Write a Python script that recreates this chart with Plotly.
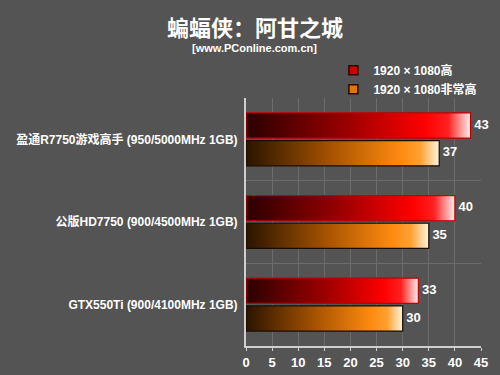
import plotly.graph_objects as go

categories = ["盈通R7750游戏高手 (950/5000MHz 1GB)", "公版HD7750 (900/4500MHz 1GB)", "GTX550Ti (900/4100MHz 1GB)"]
series_names = ["1920 × 1080高", "1920 × 1080非常高"]
high = [43, 40, 33]
very_high = [37, 35, 30]
x_ticks = [0, 5, 10, 15, 20, 25, 30, 35, 40, 45]

FONT = "Liberation Sans, Arial, Noto Sans CJK SC, sans-serif"
BG = "#545454"

red_scale = [[0, "#2a0000"], [0.45, "#9a0000"], [0.8, "#ff0000"], [0.9, "#ff2020"], [1, "#fff0f0"]]
orange_scale = [[0, "#2a1400"], [0.45, "#a85400"], [0.8, "#ff8a10"], [0.9, "#ffa030"], [1, "#fff4e0"]]

specs = [
    (series_names[0], high, red_scale, "#c00000", "#d00000", -0.32, -0.015),
    (series_names[1], very_high, orange_scale, "#1a0d00", "#e07800", 0.015, 0.32),
]

fig = go.Figure()
for name, vals, scale, edge, swatch, o1, o2 in specs:
    # legend swatch (legend only, no data)
    fig.add_trace(go.Scatter(x=[None], y=[None], mode="markers", name=name,
                             marker=dict(symbol="square", size=9, color=swatch,
                                         line=dict(color="#2a0800", width=1.5)),
                             showlegend=True, hoverinfo="skip"))
    for i, v in enumerate(vals):
        fig.add_trace(go.Scatter(
            x=[0, v, v, 0, 0], y=[i + o1, i + o1, i + o2, i + o2, i + o1],
            mode="lines", fill="toself",
            fillgradient=dict(type="horizontal", colorscale=scale),
            line=dict(color=edge, width=1.2),
            name=name, showlegend=False,
            hoverinfo="skip",
        ))
    fig.add_trace(go.Scatter(
        x=vals, y=[i + (o1 + o2) / 2 for i in range(len(vals))],
        mode="text", text=[str(v) for v in vals], texttemplate=" %{text}",
        textposition="middle right",
        textfont=dict(family=FONT, size=13, color="white", weight="bold"),
        showlegend=False, hoverinfo="skip", cliponaxis=False,
    ))

fig.update_layout(
    width=500, height=375,
    paper_bgcolor=BG, plot_bgcolor=BG,
    margin=dict(l=246, r=19, t=98, b=29, autoexpand=False),
    font=dict(family=FONT, color="white", size=12),
    showlegend=True,
    legend=dict(x=0.372, y=1.17, xanchor="left", yanchor="top",
                bgcolor="rgba(0,0,0,0)", font=dict(size=12, color="white", weight="bold"),
                itemwidth=30, tracegroupgap=0),
    annotations=[
        dict(text="<b>蝙蝠侠：阿甘之城</b>", x=0.038, y=1.362, xref="paper", yref="paper",
             xanchor="center", yanchor="top", showarrow=False,
             font=dict(family="Noto Sans CJK SC, sans-serif", size=22, color="white")),
        dict(text="<b>[www.PConline.com.cn]</b>", x=0.038, y=1.235, xref="paper", yref="paper",
             xanchor="center", yanchor="top", showarrow=False,
             font=dict(family=FONT, size=11, color="white")),
    ],
)

fig.update_xaxes(range=[0, 45], tickvals=x_ticks, showgrid=True, gridcolor="#6c6c6c", gridwidth=1,
                 showline=True, linecolor="#cfcfcf", linewidth=2, zeroline=False,
                 ticks="outside", ticklen=3, tickcolor="#cfcfcf",
                 tickfont=dict(family=FONT, size=13, color="white", weight="bold"), fixedrange=True)
fig.update_yaxes(range=[2.5, -0.5], tickvals=[0, 1, 2], ticktext=categories, showgrid=False,
                 showline=True, linecolor="#cfcfcf", linewidth=2, zeroline=False,
                 ticks="", ticklabelstandoff=4,
                 minor=dict(tickvals=[-0.5, 0.5, 1.5, 2.5], showgrid=True, gridcolor="#6c6c6c"),
                 tickfont=dict(family=FONT, size=12, color="white", weight="bold"), fixedrange=True)

fig.write_html("out.html")
